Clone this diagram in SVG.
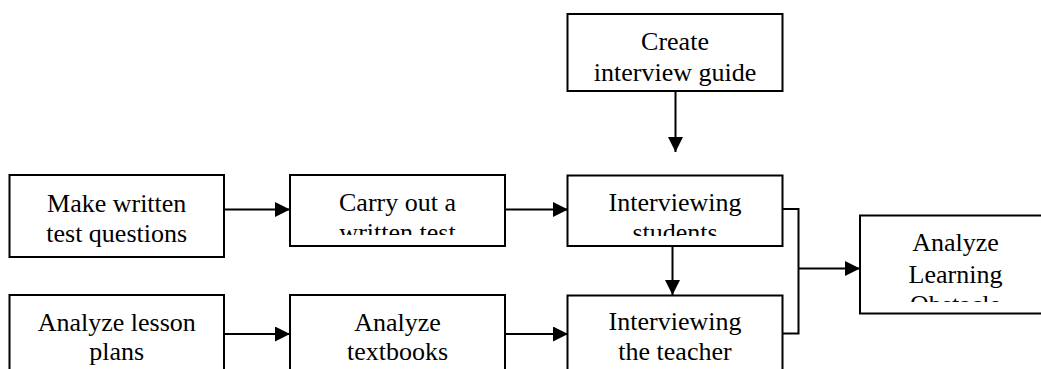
<svg xmlns="http://www.w3.org/2000/svg" width="1041" height="369" viewBox="0 0 1041 369">
<style>
.box{fill:#fff;stroke:#000;stroke-width:2}
.t{font-family:"Liberation Serif","Times New Roman",serif;font-size:26px;fill:#000;text-anchor:middle}
.c{stroke:#000;stroke-width:2;fill:none}
</style>
<defs>
<marker id="ah" viewBox="0 0 15 15" refX="15" refY="7.5" markerWidth="15" markerHeight="15" markerUnits="userSpaceOnUse" orient="auto">
<path d="M0,0 L15,7.5 L0,15 Z" fill="#000"/>
</marker>
<clipPath id="clip2"><rect x="290" y="175" width="215" height="60"/></clipPath>
<clipPath id="clip3"><rect x="567" y="175" width="216" height="61"/></clipPath>
<clipPath id="clip7"><rect x="860" y="215" width="190" height="87"/></clipPath>
</defs>
<g id="connectors">
<line class="c" x1="675.5" y1="91" x2="675.5" y2="152" marker-end="url(#ah)"/>
<line class="c" x1="224" y1="209.5" x2="290" y2="209.5" marker-end="url(#ah)"/>
<line class="c" x1="505" y1="209.5" x2="568" y2="209.5" marker-end="url(#ah)"/>
<line class="c" x1="672.5" y1="246" x2="672.5" y2="295" marker-end="url(#ah)"/>
<line class="c" x1="224" y1="334" x2="290" y2="334" marker-end="url(#ah)"/>
<line class="c" x1="505" y1="334" x2="568" y2="334" marker-end="url(#ah)"/>
<polyline class="c" points="782.5,209 798.5,209 798.5,333.5 782.5,333.5"/>
<line class="c" x1="798.5" y1="268.5" x2="860" y2="268.5" marker-end="url(#ah)"/>
</g>
<g id="create-guide">
<rect class="box" x="567.5" y="14" width="215" height="77"/>
<text class="t" x="675" y="50">Create</text>
<text class="t" x="675" y="81">interview guide</text>
</g>
<g id="make-questions">
<rect class="box" x="9.5" y="175" width="214.5" height="82"/>
<text class="t" x="116.7" y="211.5">Make written</text>
<text class="t" x="116.7" y="241.5">test questions</text>
</g>
<g id="carry-out-test">
<rect class="box" x="290" y="175" width="215" height="71"/>
<g clip-path="url(#clip2)">
<text class="t" x="397.5" y="211">Carry out a</text>
<text class="t" x="397.5" y="241">written test</text>
</g>
</g>
<g id="interview-students">
<rect class="box" x="567.5" y="175.5" width="215" height="70.5"/>
<g clip-path="url(#clip3)">
<text class="t" x="675" y="211">Interviewing</text>
<text class="t" x="675" y="241">students</text>
</g>
</g>
<g id="analyze-lesson">
<rect class="box" x="9.5" y="295" width="214.5" height="90"/>
<text class="t" x="116.7" y="330.5">Analyze lesson</text>
<text class="t" x="116.7" y="360">plans</text>
</g>
<g id="analyze-textbooks">
<rect class="box" x="290" y="295" width="215" height="90"/>
<text class="t" x="397.5" y="330.5">Analyze</text>
<text class="t" x="397.5" y="360">textbooks</text>
</g>
<g id="interview-teacher">
<rect class="box" x="567.5" y="295.5" width="215" height="90"/>
<text class="t" x="675" y="330">Interviewing</text>
<text class="t" x="675" y="360">the teacher</text>
</g>
<g id="analyze-obstacle">
<rect class="box" x="860" y="215.5" width="190" height="98"/>
<g clip-path="url(#clip7)">
<text class="t" x="955.5" y="251">Analyze</text>
<text class="t" x="955.5" y="282.5">Learning</text>
<text class="t" x="955.5" y="313">Obstacle</text>
</g>
</g>
</svg>
